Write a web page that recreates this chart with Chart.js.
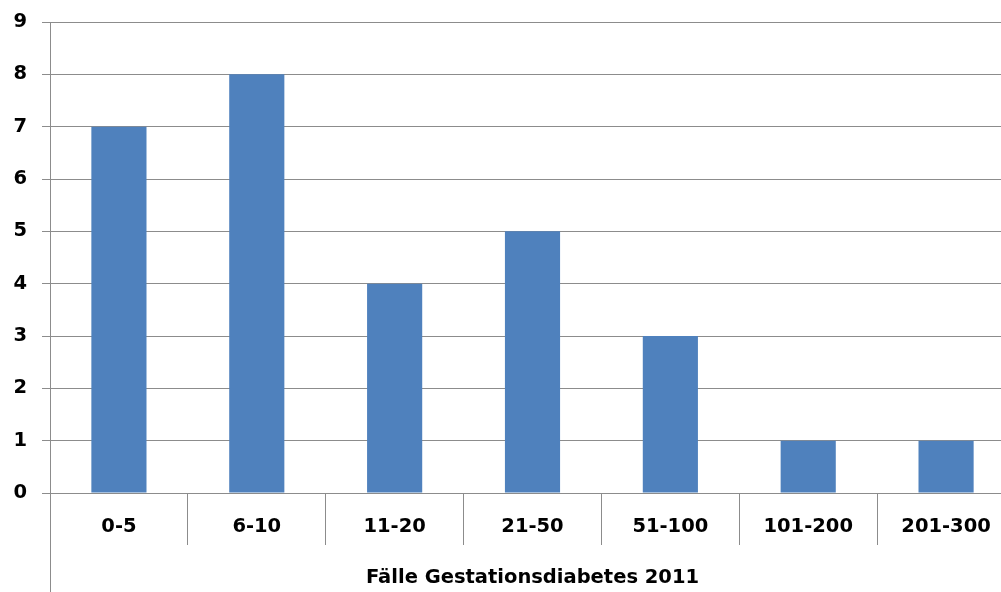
<!DOCTYPE html>
<html>
<head>
<meta charset="utf-8">
<script src="https://cdn.jsdelivr.net/npm/chart.js@4/dist/chart.umd.min.js"></script>
<style>
  html, body { margin: 0; padding: 0; overflow: hidden; background: #fff; }
  #wrap { width: 1020px; height: 592px; position: relative; }
</style>
</head>
<body>
<div id="wrap"><canvas id="mychart"></canvas></div>
<script>
// Gestationsdiabetes-Fälle 2011, nach Gruppen
var gruppen = ["0-5", "6-10", "11-20", "21-50", "51-100", "101-200", "201-300"];
var anzahl = [7, 8, 4, 5, 3, 1, 1];
var yTicks = [0, 1, 2, 3, 4, 5, 6, 7, 8, 9];

var lineColor = "#8c8c8c";
var fontBold = { family: "'DejaVu Sans', sans-serif", size: 19.5, weight: "bold", lineHeight: 0.6 };

// linke Achsenlinie bis zum unteren Rand verlängern
var axisExtend = {
    id: "axisExtend",
    afterDraw: function (chart) {
        var ctx = chart.ctx;
        var x = chart.chartArea.left + 0.5;
        ctx.save();
        ctx.strokeStyle = lineColor;
        ctx.lineWidth = 1;
        ctx.beginPath();
        ctx.moveTo(x, chart.chartArea.top);
        ctx.lineTo(x, chart.height);
        ctx.stroke();
        ctx.restore();
    }
};

new Chart(document.getElementById("mychart"), {
    type: "bar",
    data: {
        labels: gruppen,
        datasets: [{
            data: anzahl,
            backgroundColor: "#4f81bd",
            borderWidth: 0,
            barPercentage: 0.4,
            categoryPercentage: 1.0
        }]
    },
    options: {
        responsive: true,
        maintainAspectRatio: false,
        animation: false,
        layout: { padding: { top: 22, right: 5, left: 0, bottom: 0 } },
        plugins: { legend: { display: false }, tooltip: { enabled: false } },
        scales: {
            x: {
                offset: true,
                grid: {
                    offset: true,
                    drawOnChartArea: false,
                    drawTicks: true,
                    tickLength: 52,
                    color: lineColor,
                    lineWidth: 1
                },
                border: { display: true, color: lineColor },
                ticks: { color: "#000", font: fontBold, padding: -24, maxRotation: 0 },
                title: {
                    display: true,
                    text: "Fälle Gestationsdiabetes 2011",
                    color: "#000",
                    font: { family: "'DejaVu Sans', sans-serif", size: 19.5, weight: "bold" },
                    padding: { top: 0, bottom: 2 }
                },
                afterFit: function (scale) { scale.height = 99; }
            },
            y: {
                min: 0,
                max: 9,
                afterBuildTicks: function (scale) {
                    scale.ticks = yTicks.map(function (v) { return { value: v }; });
                },
                grid: { color: lineColor, lineWidth: 1, tickLength: 8 },
                border: { display: true, color: lineColor },
                ticks: { color: "#000", font: fontBold, padding: 15 },
                afterFit: function (scale) { scale.width = 50; }
            }
        }
    },
    plugins: [axisExtend]
});
</script>
</body>
</html>
